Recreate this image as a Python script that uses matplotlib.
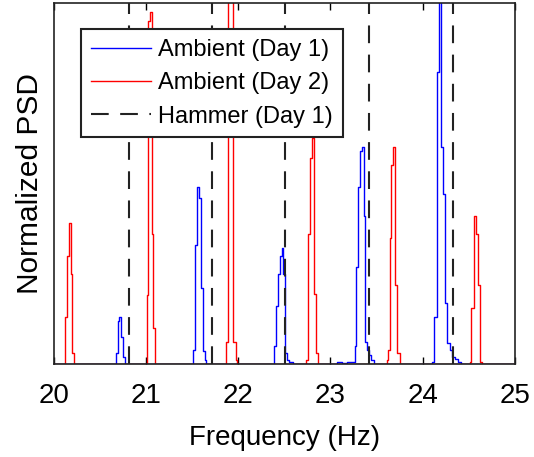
import numpy as np
import matplotlib
matplotlib.use("Agg")
import matplotlib.pyplot as plt

plt.rcParams['font.family'] = ['Liberation Sans', 'DejaVu Sans']

# PSD samples (frequency in Hz, normalised amplitude)
day1_freq = [20.00, 20.66, 20.68, 20.70, 20.72, 20.74, 20.76, 20.78,
             21.50, 21.52, 21.545, 21.565, 21.585, 21.605, 21.625, 21.645, 21.665,
             22.38, 22.40, 22.42, 22.44, 22.46, 22.48, 22.50, 22.52, 22.54, 22.56, 22.58, 22.60,
             23.05, 23.10, 23.15, 23.20, 23.24, 23.26, 23.275, 23.29, 23.31, 23.33, 23.35,
             23.37, 23.385, 23.40, 23.43, 23.455, 23.48,
             24.09, 24.115, 24.14, 24.165, 24.19, 24.215, 24.235, 24.26, 24.28, 24.305,
             24.33, 24.365, 24.40, 24.43, 25.00]
day1_psd = [0, 0, 0.03, 0.12, 0.13, 0.075, 0.02, 0,
            0, 0.04, 0.33, 0.49, 0.46, 0.21, 0.035, 0.01, 0,
            0, 0.05, 0.16, 0.25, 0.30, 0.32, 0.25, 0.03, 0.01, 0.005, 0.005, 0,
            0, 0.006, 0.004, 0.006, 0.005, 0.005, 0.05, 0.27, 0.49, 0.59, 0.60,
            0.41, 0.06, 0.04, 0.025, 0.01, 0,
            0, 0.005, 0.13, 0.81, 1.30, 0.60, 0.47, 0.17, 0.057, 0.04,
            0.02, 0.015, 0.005, 0, 0]

day2_freq = [20.00, 20.11, 20.13, 20.15, 20.17, 20.19, 20.21, 20.23,
             21.00, 21.01, 21.03, 21.05, 21.07, 21.09, 21.11,
             21.86, 21.88, 21.905, 21.935, 21.96, 21.98, 22.00,
             22.73, 22.75, 22.77, 22.79, 22.81, 22.83, 22.85, 22.87,
             23.60, 23.62, 23.635, 23.65, 23.67, 23.695, 23.715, 23.74, 23.76,
             24.50, 24.52, 24.54, 24.565, 24.59, 24.61, 24.635, 24.66, 25.00]
day2_psd = [0, 0, 0.13, 0.30, 0.39, 0.25, 0.03, 0,
            0, 0.19, 0.95, 0.975, 0.36, 0.10, 0,
            0, 0.06, 1.40, 1.40, 0.06, 0.01, 0,
            0, 0.01, 0.36, 0.57, 0.625, 0.195, 0.03, 0,
            0, 0.01, 0.04, 0.35, 0.55, 0.60, 0.22, 0.03, 0,
            0, 0.005, 0.155, 0.41, 0.36, 0.22, 0.005, 0, 0]

hammer_freq = [20.81, 21.71, 22.51, 23.42, 24.33]

fig = plt.figure(figsize=(5.34, 4.57), dpi=100)
ax = fig.add_axes([0.101, 0.2035, 0.863, 0.79])

ax.plot(day1_freq, day1_psd, color='#0000ff', lw=1.0, drawstyle='steps-mid',
        label='Ambient (Day 1)')
ax.plot(day2_freq, day2_psd, color='#ff0000', lw=1.0, drawstyle='steps-mid',
        label='Ambient (Day 2)')
for i, f in enumerate(hammer_freq):
    ax.axvline(f, color='#222222', lw=1.5, linestyle=(0, (8.5, 5.5)),
               label='Hammer (Day 1)' if i == 0 else None)

ax.set_xlim(20, 25)
ax.set_ylim(0, 1)
ax.set_xticks([20, 21, 22, 23, 24, 25])
ax.set_yticks([])
ax.tick_params(axis='x', direction='in', length=5, width=1, top=True,
               labelsize=20, pad=14)
for s in ax.spines.values():
    s.set_linewidth(1.2)
    s.set_color('#222222')

ax.set_xlabel('Frequency (Hz)', fontsize=20, labelpad=11)
ax.set_ylabel('Normalized PSD', fontsize=21.5, labelpad=7)

leg = ax.legend(loc='upper left', bbox_to_anchor=(0.0586, 0.928),
                borderaxespad=0, fontsize=17, handlelength=2.55,
                handletextpad=0.3, labelspacing=0.48, borderpad=0.42,
                fancybox=False, framealpha=1)
leg.get_frame().set_edgecolor('#222222')
leg.get_frame().set_linewidth(1.5)

fig.savefig('out.png', dpi=100)
